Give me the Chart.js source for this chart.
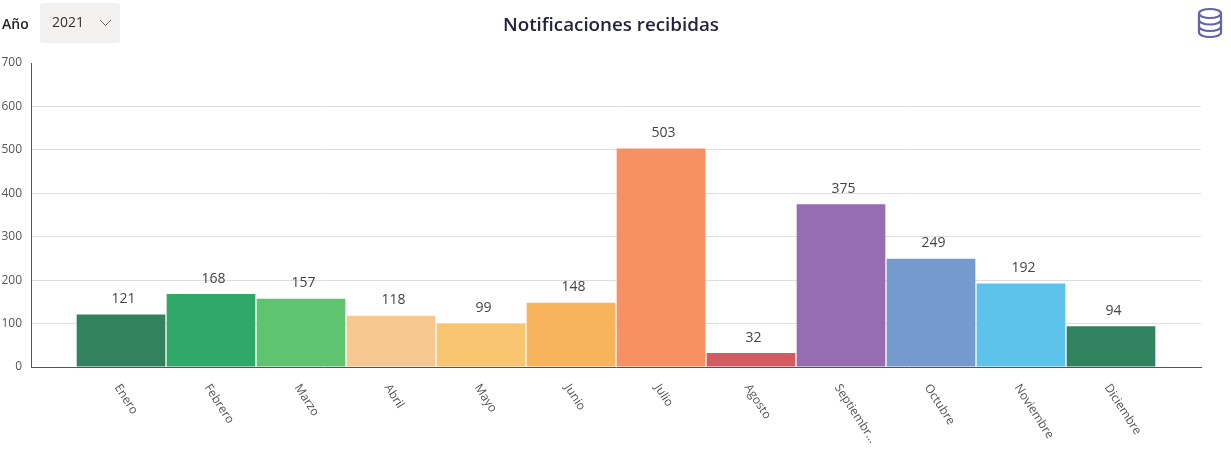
<!DOCTYPE html>
<html lang="es">
<head>
<meta charset="utf-8">
<title>Notificaciones recibidas</title>
<script src="https://cdn.jsdelivr.net/npm/chart.js@4"></script>
<style>
  html, body { margin: 0; padding: 0; background: #fff; overflow: hidden; }
  body { width: 1231px; height: 454px; position: relative; font-family: "Open Sans", "Noto Sans", sans-serif; }
  #chart { position: absolute; left: 0; top: 0; }
  .anio { position: absolute; left: 2px; top: 14px; font-size: 14px; line-height: 20px; font-weight: 600; color: #252424; }
  .selector { position: absolute; left: 40px; top: 3px; width: 80px; height: 40px; background: #f3f2f1; border-radius: 3px; }
  .selector span { position: absolute; left: 12px; top: 9px; font-size: 14px; line-height: 20px; color: #333; }
  .selector svg { position: absolute; left: 59px; top: 16px; }
  h1 { position: absolute; left: 0; width: 1222px; top: 11px; margin: 0; text-align: center; font-size: 18.8px; line-height: 26px; font-weight: 600; color: #252440; }
  .icono { position: absolute; left: 1197px; top: 7px; }
</style>
</head>
<body>
<canvas id="chart" width="1231" height="454"></canvas>
<div class="anio">Año</div>
<div class="selector">
  <span>2021</span>
  <svg width="13" height="8" viewBox="0 0 13 8"><path d="M1 1 L6.5 6.5 L12 1" fill="none" stroke="#666" stroke-width="1"/></svg>
</div>
<h1>Notificaciones recibidas</h1>
<svg class="icono" width="26" height="32" viewBox="0 0 26 32" fill="none" stroke="#6264a7" stroke-width="2.2">
  <ellipse cx="13" cy="6.5" rx="11" ry="4.5"/>
  <path d="M2 6.5 V25.5 C2 28 7 30 13 30 C19 30 24 28 24 25.5 V6.5"/>
  <path d="M2 13 C2 15.5 7 17.5 13 17.5 C19 17.5 24 15.5 24 13"/>
  <path d="M2 19.5 C2 22 7 24 13 24 C19 24 24 22 24 19.5"/>
</svg>
<script>
const meses = ['Enero', 'Febrero', 'Marzo', 'Abril', 'Mayo', 'Junio', 'Julio', 'Agosto', 'Septiembr…', 'Octubre', 'Noviembre', 'Diciembre'];
const notificaciones = [121, 168, 157, 118, 99, 148, 503, 32, 375, 249, 192, 94];
const colores = ['#33825e', '#30a867', '#5fc46f', '#f5c791', '#f8c571', '#f7b45c', '#f79063', '#d25c62', '#966db0', '#759ace', '#5dc3eb', '#31825e'];
const fuente = '"Open Sans", "Noto Sans", sans-serif';

// etiquetas encima de cada barra y meses girados
const etiquetas = {
  id: 'etiquetas',
  afterDatasetsDraw(chart) {
    const ctx = chart.ctx;
    const barras = chart.getDatasetMeta(0).data;
    ctx.save();
    ctx.textBaseline = 'middle';
    barras.forEach((barra, i) => {
      const valor = chart.data.datasets[0].data[i];
      if (valor == null) return;
      ctx.fillStyle = '#444';
      ctx.font = '14px ' + fuente;
      ctx.textAlign = 'center';
      ctx.fillText(valor, barra.x + 2.5, barra.y - 15.5);

      ctx.save();
      ctx.translate(barra.x - 4, chart.scales.y.bottom + 18.5);
      ctx.rotate(Math.PI / 180 * 57);
      ctx.fillStyle = '#555';
      ctx.font = '12px ' + fuente;
      ctx.textAlign = 'left';
      ctx.fillText(chart.data.labels[i], 0, 0);
      ctx.restore();
    });
    ctx.restore();
  }
};

new Chart(document.getElementById('chart'), {
  type: 'bar',
  data: {
    // una categoria vacia a cada lado deja el hueco junto a los ejes
    labels: ['', ...meses, ''],
    datasets: [{
      data: [null, ...notificaciones, null],
      backgroundColor: [null, ...colores, null],
      barPercentage: 0.985,
      categoryPercentage: 1
    }]
  },
  plugins: [etiquetas],
  options: {
    responsive: false,
    animation: false,
    layout: { padding: { top: 63, right: 30, bottom: 0, left: 0 } },
    plugins: {
      legend: { display: false },
      title: { display: false }
    },
    scales: {
      x: {
        offset: false,
        afterFit(scale) { scale.height = 87; },
        grid: { display: false },
        border: { display: true, color: '#555', width: 1 },
        ticks: { display: false }
      },
      y: {
        min: 0,
        max: 700,
        afterFit(scale) { scale.width = 31; },
        grid: {
          drawTicks: false,
          color: ctx => (ctx.tick.value === 0 || ctx.tick.value === 700) ? 'transparent' : '#dddddd'
        },
        border: { display: true, color: '#555', width: 1 },
        ticks: {
          stepSize: 100,
          padding: 9,
          color: '#555',
          font: { family: fuente, size: 12 }
        }
      }
    }
  }
});
</script>
</body>
</html>
